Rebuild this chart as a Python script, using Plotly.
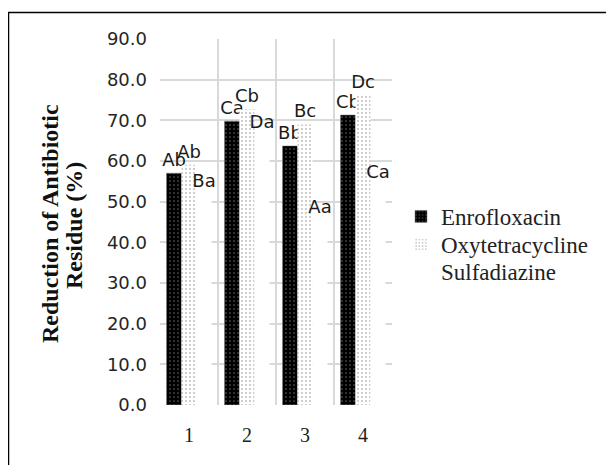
import plotly.graph_objects as go

categories = [1, 2, 3, 4]
tick_labels = ["1", "2", "3", "4"]
enrofloxacin = [57.0, 69.8, 63.7, 71.3]
oxytetracycline = [59.1, 72.7, 69.0, 76.3]
sulfadiazine = [52.0, 66.5, 45.4, 54.2]
enro_labels = ["Ab", "Ca", "Bb", "Cb"]
oxy_labels = ["Ab", "Cb", "Bc", "Dc"]
sulfa_labels = ["Ba", "Da", "Aa", "Ca"]
y_ticks = [0, 10, 20, 30, 40, 50, 60, 70, 80, 90]

# page body has an 8px margin; work in reference pixels, shift by OFF
OFF = 8
W, H = 614 - OFF, 465 - OFF
L, T = 160 - OFF, 39 - OFF
RIGHT, BOTTOM = 392 - OFF, 405 - OFF
R, B = W - RIGHT, H - BOTTOM
pw, ph = RIGHT - L, BOTTOM - T


def px_x(p):
    return (p - OFF - L) / pw


def px_y(p):
    return (BOTTOM - (p - OFF)) / ph


label_font = dict(family="DejaVu Sans", size=18, color="#1a1a1a")

fig = go.Figure()
fig.add_trace(go.Bar(
    name="Enrofloxacin", x=categories, y=enrofloxacin, text=enro_labels,
    textposition="outside", constraintext="none", cliponaxis=False,
    textfont=label_font, legend="legend",
    marker=dict(color="black", line=dict(width=0.5, color="#777777"),
                pattern=dict(shape=".", bgcolor="black", fgcolor="#bbbbbb",
                             size=4, solidity=0.15)),
))
fig.add_trace(go.Bar(
    name="Oxytetracycline", x=categories, y=oxytetracycline, text=oxy_labels,
    textposition="outside", constraintext="none", cliponaxis=False,
    textfont=label_font, legend="legend2",
    marker=dict(color="white", line=dict(width=0),
                pattern=dict(shape=".", bgcolor="white", fgcolor="black",
                             size=4, solidity=0.1)),
))
fig.add_trace(go.Bar(
    name="Sulfadiazine", x=categories, y=sulfadiazine, text=sulfa_labels,
    textposition="outside", constraintext="none", cliponaxis=False,
    textfont=label_font, legend="legend3",
    marker=dict(color="white", line=dict(width=0)),
))

legend_font = dict(family="Liberation Serif", size=23, color="#222222")


def legend_at(yc):
    return dict(x=px_x(401), y=px_y(yc), xanchor="left", yanchor="middle",
                font=legend_font, bgcolor="rgba(0,0,0,0)")


grid = dict(gridcolor="#d9d9d9", gridwidth=1.5, ticks="", showgrid=True,
            tickmode="array")

fig.update_layout(
    width=W, height=H,
    margin=dict(l=L, r=R, t=T, b=B, pad=0),
    paper_bgcolor="white", plot_bgcolor="white",
    barmode="group", bargap=0.224, bargroupgap=0,
    showlegend=True,
    legend=legend_at(216.5),
    legend2=legend_at(244.5),
    legend3=legend_at(271),
    xaxis=dict(
        range=[0.5, 4.5], tickmode="array", tickvals=categories, ticktext=tick_labels,
        showgrid=False, zeroline=False, showline=False, ticks="",
        tickfont=dict(family="Liberation Serif", size=20, color="#222222"),
        ticklabelstandoff=16,
        minor=dict(grid, tickvals=[1.5, 2.5, 3.5]),
    ),
    yaxis=dict(
        range=[0, 90], tickmode="array", tickvals=y_ticks, tickformat=".1f",
        showgrid=False, zeroline=False, showline=False, ticks="",
        tickfont=dict(family="DejaVu Sans", size=18, color="#262626"),
        ticklabelstandoff=12,
        minor=dict(grid, tickvals=y_ticks[1:]),
    ),
    annotations=[
        dict(text="<b>Reduction of Antibiotic</b>", xref="paper", yref="paper",
             x=px_x(50), y=px_y(224), xanchor="center", yanchor="middle",
             textangle=-90, showarrow=False,
             font=dict(family="Liberation Serif", size=24, color="#111111")),
        dict(text="<b>Residue (%)</b>", xref="paper", yref="paper",
             x=px_x(74), y=px_y(226), xanchor="center", yanchor="middle",
             textangle=-90, showarrow=False,
             font=dict(family="Liberation Serif", size=24, color="#111111")),
    ],
    shapes=[dict(
        type="rect", xref="paper", yref="paper",
        x0=px_x(8.5), x1=px_x(700), y0=px_y(600), y1=px_y(12.5),
        line=dict(color="black", width=1.5), fillcolor="rgba(0,0,0,0)",
    )],
)

fig.write_html("out.html")
